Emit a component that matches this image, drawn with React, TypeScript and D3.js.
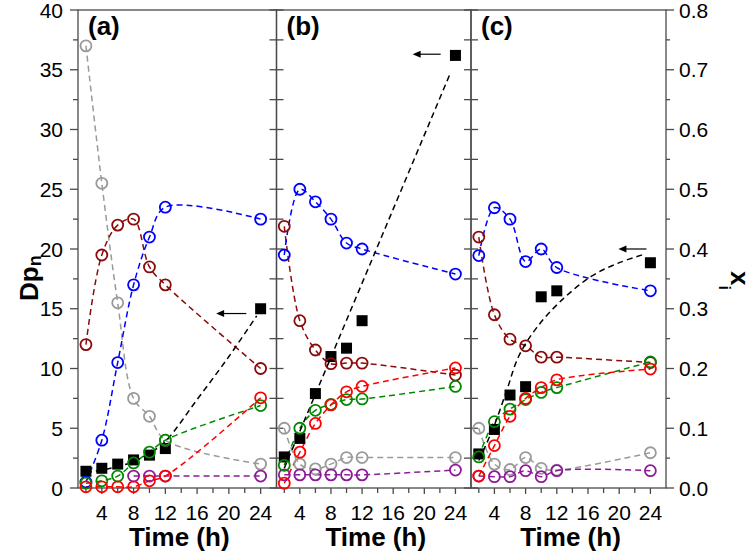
import React from "react";
import * as d3 from "d3";

const W = 750, H = 552;
const TIMES = [2, 4, 6, 8, 10, 12, 24];

// Panel (a)
const grayA = [0.74, 0.51, 0.31, 0.15, 0.12, 0.08, 0.04];
const wineA = [0.24, 0.39, 0.44, 0.45, 0.37, 0.34, 0.2];
const blueA = [0.01, 0.08, 0.21, 0.34, 0.42, 0.47, 0.45];
const greenA = [0.008, 0.012, 0.02, 0.042, 0.06, 0.08, 0.138];
const redA = [0.002, 0.002, 0.002, 0.002, 0.012, 0.02, 0.151];
const purpleTA = [8, 10, 12, 24];
const purpleA = [0.02, 0.02, 0.02, 0.02];
const dpA = [1.4, 1.65, 2.0, 2.35, 2.75, 3.3, 15.0];
const fitTA = [2, 4, 6, 8, 10, 12, 16, 20, 23.5];
const fitA = [1.3, 1.5, 1.8, 2.2, 2.9, 3.9, 7.4, 11.0, 14.4];

// Panel (b)
const grayB = [0.1, 0.04, 0.032, 0.04, 0.051, 0.051, 0.051];
const wineB = [0.438, 0.28, 0.231, 0.208, 0.209, 0.209, 0.189];
const blueB = [0.39, 0.5, 0.479, 0.45, 0.41, 0.4, 0.358];
const greenB = [0.038, 0.1, 0.13, 0.14, 0.148, 0.149, 0.17];
const redB = [0.008, 0.06, 0.108, 0.139, 0.161, 0.17, 0.201];
const purpleB = [0.022, 0.022, 0.022, 0.022, 0.022, 0.022, 0.03];
const dpB = [2.6, 4.15, 7.9, 11.0, 11.7, 14.0, 36.2];
const fitTB = [2, 23.4];
const fitB = [1.65, 34.8];

// Panel (c)
const grayC = [0.1, 0.04, 0.031, 0.051, 0.033, 0.03, 0.059];
const wineC = [0.42, 0.29, 0.249, 0.238, 0.219, 0.219, 0.21];
const blueC = [0.389, 0.469, 0.45, 0.379, 0.4, 0.369, 0.33];
const greenC = [0.052, 0.111, 0.132, 0.148, 0.16, 0.168, 0.211];
const redC = [0.02, 0.071, 0.12, 0.15, 0.168, 0.181, 0.199];
const purpleC = [0.02, 0.019, 0.019, 0.029, 0.019, 0.029, 0.029];
const dpC = [2.85, 4.9, 7.78, 8.48, 16.0, 16.5, 18.85];
const fitTC = [2, 3.9, 5.6, 7.1, 9.4, 12.6, 16.4, 19.8, 23.4];
const fitC = [2.3, 5.1, 8.2, 11.0, 13.4, 15.7, 17.7, 18.8, 19.6];

// arrows [tStart(head), tEnd, Dp value]
const arrowA = [18.4, 22.2, 14.6];
const arrowB = [18.5, 22.1, 36.3];
const arrowC = [19.9, 23.5, 20.0];

const X_TICKS = [4, 8, 12, 16, 20, 24];
const X_MINOR = [2, 6, 10, 14, 18, 22];
const LEFT_TICKS = [0, 5, 10, 15, 20, 25, 30, 35, 40];
const LEFT_MINOR = [2.5, 7.5, 12.5, 17.5, 22.5, 27.5, 32.5, 37.5];
const RIGHT_TICKS = [0, 0.1, 0.2, 0.3, 0.4, 0.5, 0.6, 0.7, 0.8];
const RIGHT_MINOR = [0.05, 0.15, 0.25, 0.35, 0.45, 0.55, 0.65, 0.75];

const COLORS = {
  gray: "#9a9a9a",
  wine: "#8b0a0a",
  blue: "#0000ff",
  green: "#008a00",
  red: "#ff0000",
  purple: "#8e1a99",
};

const TOP = 10, BOTTOM = 488;
const FONT = "'Liberation Sans', Arial, sans-serif";
const AXIS = "#4a4a4a";

const yLeft = d3.scaleLinear().domain([0, 40]).range([BOTTOM, TOP]);
const yRight = d3.scaleLinear().domain([0, 0.8]).range([BOTTOM, TOP]);

type Series = { color: string; t: number[]; v: number[] };
type Panel = {
  label: string;
  left: number;
  right: number;
  series: Series[];
  dp: number[];
  fitT: number[];
  fit: number[];
  arrow: number[];
};

const panels: Panel[] = [
  {
    label: "(a)", left: 78, right: 276.5,
    series: [
      { color: COLORS.gray, t: TIMES, v: grayA },
      { color: COLORS.wine, t: TIMES, v: wineA },
      { color: COLORS.blue, t: TIMES, v: blueA },
      { color: COLORS.purple, t: purpleTA, v: purpleA },
      { color: COLORS.green, t: TIMES, v: greenA },
      { color: COLORS.red, t: TIMES, v: redA },
    ],
    dp: dpA, fitT: fitTA, fit: fitA, arrow: arrowA,
  },
  {
    label: "(b)", left: 276.5, right: 471,
    series: [
      { color: COLORS.gray, t: TIMES, v: grayB },
      { color: COLORS.wine, t: TIMES, v: wineB },
      { color: COLORS.blue, t: TIMES, v: blueB },
      { color: COLORS.purple, t: TIMES, v: purpleB },
      { color: COLORS.green, t: TIMES, v: greenB },
      { color: COLORS.red, t: TIMES, v: redB },
    ],
    dp: dpB, fitT: fitTB, fit: fitB, arrow: arrowB,
  },
  {
    label: "(c)", left: 471, right: 666,
    series: [
      { color: COLORS.gray, t: TIMES, v: grayC },
      { color: COLORS.wine, t: TIMES, v: wineC },
      { color: COLORS.blue, t: TIMES, v: blueC },
      { color: COLORS.purple, t: TIMES, v: purpleC },
      { color: COLORS.green, t: TIMES, v: greenC },
      { color: COLORS.red, t: TIMES, v: redC },
    ],
    dp: dpC, fitT: fitTC, fit: fitC, arrow: arrowC,
  },
];

function PanelView({ p, idx }: { p: Panel; idx: number }) {
  const x = d3.scaleLinear().domain([1, 26]).range([p.left, p.right]);
  const colorLine = (s: Series) =>
    d3.line<number>()
      .x((_, i) => x(s.t[i]))
      .y((d) => yRight(d))
      .curve(d3.curveCatmullRom.alpha(0.5))(s.v) || "";
  const fitLine =
    d3.line<number>()
      .x((_, i) => x(p.fitT[i]))
      .y((d) => yLeft(d))
      .curve(d3.curveCatmullRom.alpha(0.5))(p.fit) || "";
  const sq = 11;
  const [a0, a1, av] = p.arrow;
  const ax0 = x(a0), ax1 = x(a1), ay = yLeft(av);
  const isFirst = idx === 0;
  const isLast = idx === panels.length - 1;
  const cx = (p.left + p.right) / 2;
  return (
    <g>
      <rect x={p.left} y={TOP} width={p.right - p.left} height={BOTTOM - TOP} fill="none" stroke={AXIS} strokeWidth={1.3} />
      {X_TICKS.map((t) => (
        <line key={"xt" + t} x1={x(t)} x2={x(t)} y1={BOTTOM} y2={BOTTOM + 6} stroke={AXIS} strokeWidth={1.3} />
      ))}
      {X_MINOR.map((t) => (
        <line key={"xm" + t} x1={x(t)} x2={x(t)} y1={BOTTOM} y2={BOTTOM + 5} stroke={AXIS} strokeWidth={1.3} />
      ))}
      {X_TICKS.map((t) => (
        <text key={"xl" + t} x={x(t)} y={520} textAnchor="middle" fontSize={21} fontFamily={FONT} fill="#000">{t}</text>
      ))}
      <text x={cx + 2} y={546} textAnchor="middle" fontSize={26} fontWeight="bold" fontFamily={FONT} fill="#000">Time (h)</text>
      {LEFT_TICKS.map((v) => (
        <line key={"ly" + v} x1={isFirst ? p.left - 8 : p.left - 7} x2={isFirst ? p.left : p.left + 7} y1={yLeft(v)} y2={yLeft(v)} stroke={AXIS} strokeWidth={1.3} />
      ))}
      {LEFT_MINOR.map((v) => (
        <line key={"lm" + v} x1={isFirst ? p.left - 5 : p.left - 7} x2={isFirst ? p.left : p.left + 7} y1={yLeft(v)} y2={yLeft(v)} stroke={AXIS} strokeWidth={1.3} />
      ))}
      {isLast && RIGHT_TICKS.map((v) => (
        <line key={"ry" + v} x1={p.right} x2={p.right + 8} y1={yRight(v)} y2={yRight(v)} stroke={AXIS} strokeWidth={1.3} />
      ))}
      {isLast && RIGHT_MINOR.map((v) => (
        <line key={"rm" + v} x1={p.right} x2={p.right + 4} y1={yRight(v)} y2={yRight(v)} stroke={AXIS} strokeWidth={1.3} />
      ))}
      {p.series.map((s, i) => (
        <path key={"l" + i} d={colorLine(s)} fill="none" stroke={s.color} strokeWidth={1.5} strokeDasharray="6,4" />
      ))}
      <path d={fitLine} fill="none" stroke="#000" strokeWidth={1.5} strokeDasharray="6,4" />
      {p.dp.map((v, i) => (
        <rect key={"s" + i} x={x(TIMES[i]) - sq / 2} y={yLeft(v) - sq / 2} width={sq} height={sq} fill="#000" />
      ))}
      {p.series.map((s, i) => (
        <g key={"c" + i}>
          {s.v.map((v, j) => (
            <circle key={j} cx={x(s.t[j])} cy={yRight(v)} r={5.5} fill="none" stroke={s.color} strokeWidth={1.8} />
          ))}
        </g>
      ))}
      <line x1={ax0 + 6} x2={ax1} y1={ay} y2={ay} stroke="#000" strokeWidth={1.2} />
      <path d={`M${ax0},${ay} L${ax0 + 8},${ay - 3.5} L${ax0 + 8},${ay + 3.5} Z`} fill="#000" />
      <text x={p.left + 10} y={35} fontSize={26} fontWeight="bold" fontFamily={FONT} fill="#000">{p.label}</text>
    </g>
  );
}

export default function App() {
  return (
    <svg width={W} height={H} style={{ position: "absolute", left: 0, top: 0, background: "#fff" }}>
      <rect x={0} y={0} width={W} height={H} fill="#fff" />
      {panels.map((p, i) => (
        <PanelView key={i} p={p} idx={i} />
      ))}
      {LEFT_TICKS.map((v) => (
        <text key={"lt" + v} x={63} y={yLeft(v) + 7.5} textAnchor="end" fontSize={21} fontFamily={FONT} fill="#000">{v}</text>
      ))}
      {RIGHT_TICKS.map((v) => (
        <text key={"rt" + v} x={679} y={yRight(v) + 7.5} textAnchor="start" fontSize={21} fontFamily={FONT} fill="#000">{v.toFixed(1)}</text>
      ))}
      <text transform="translate(38,301) rotate(-90)" fontSize={26} fontWeight="bold" fontFamily={FONT} fill="#000">
        Dp<tspan fontSize={18} dy={3}>n</tspan>
      </text>
      <text transform="translate(731,271) rotate(90)" fontSize={26} fontWeight="bold" fontFamily={FONT} fill="#000">
        x<tspan fontSize={16} dy={12}>i</tspan>
      </text>
    </svg>
  );
}
